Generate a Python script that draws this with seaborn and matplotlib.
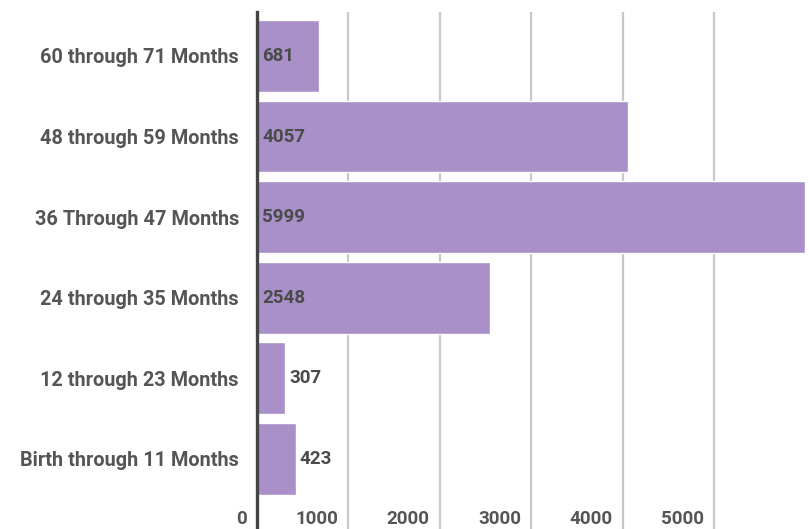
import matplotlib
matplotlib.use("Agg")
import matplotlib.pyplot as plt
import matplotlib.transforms as mtransforms
import seaborn as sns
import pandas as pd

# Age groups, top to bottom, and the number of children in each
categories = [
    "60 through 71 Months",
    "48 through 59 Months",
    "36 Through 47 Months",
    "24 through 35 Months",
    "12 through 23 Months",
    "Birth through 11 Months",
]
counts = [681, 4057, 5999, 2548, 307, 423]
x_ticks = [0, 1000, 2000, 3000, 4000, 5000]
x_tick_labels = ["0", "1000", "2000", "3000", "4000", "5000"]

df = pd.DataFrame({"group": categories, "count": counts})

sns.set_theme(style="white")
plt.rcParams["font.family"] = ["Roboto", "DejaVu Sans"]

W, H = 809, 529
fig = plt.figure(figsize=(W / 100, H / 100), dpi=100)
ax = fig.add_axes([257 / W, 0.0, (W - 257) / W, (H - 12) / H])

bar_color = "#aa90c8"
sns.barplot(data=df, x="count", y="group", orient="h", color=bar_color,
            width=0.89, saturation=1, ax=ax, zorder=3)

ax.set_xlim(0, 6039)
ax.set_ylim(5.87, -0.546)

# vertical gridlines
ax.set_xticks(x_ticks)
ax.xaxis.grid(True, color="#c8c8c8", linewidth=1.6, zorder=0)
ax.yaxis.grid(False)
ax.tick_params(axis="x", length=0, labelbottom=False)
ax.tick_params(axis="y", length=0, pad=13)
ax.set_xlabel("")
ax.set_ylabel("")

for lab in ax.get_yticklabels():
    lab.set_fontsize(14.3)
    lab.set_fontweight("bold")
    lab.set_color("#555555")

for s in ["top", "right", "bottom"]:
    ax.spines[s].set_visible(False)
ax.spines["left"].set_color("#444444")
ax.spines["left"].set_linewidth(2.4)
ax.spines["left"].set_zorder(5)

# x tick labels, right-aligned just left of each gridline
shift_left = mtransforms.offset_copy(ax.transData, fig=fig, x=-10, y=0, units="dots")
for xv, txt in zip(x_ticks, x_tick_labels):
    ax.text(xv, 5.745, txt, transform=shift_left, ha="right", va="center",
            fontsize=13.5, fontweight="bold", color="#555555")

# value labels: inside the bar when it fits, otherwise just past its end
inside = mtransforms.offset_copy(ax.transData, fig=fig, x=5, y=0, units="dots")
outside = mtransforms.offset_copy(ax.transData, fig=fig, x=4, y=0, units="dots")
for i, v in enumerate(counts):
    if v > 600:
        ax.text(0, i, str(v), transform=inside, ha="left", va="center",
                fontsize=13.5, fontweight="bold", color="#4a4a4a", zorder=6)
    else:
        ax.text(v, i, str(v), transform=outside, ha="left", va="center",
                fontsize=13.5, fontweight="bold", color="#4a4a4a", zorder=6)

fig.savefig("out.png", dpi=100)
